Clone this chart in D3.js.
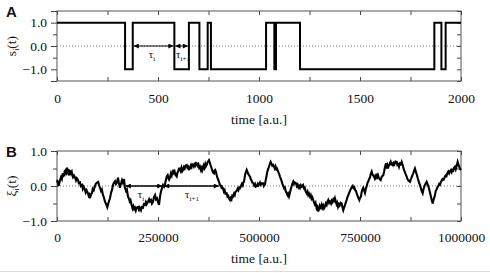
<!DOCTYPE html>
<html>
<head>
<meta charset="utf-8">
<script src="https://cdnjs.cloudflare.com/ajax/libs/d3/7.8.5/d3.min.js"></script>
<style>
  body { margin: 0; background: #fff; }
  text { font-family: "Liberation Serif", "DejaVu Serif", serif; fill: #111; }
  .panel { font-family: "Liberation Sans", Arial, sans-serif; font-weight: bold; }
</style>
</head>
<body>
<div id="chartContainer"></div>
<script>
// panel A: switching times of the two-state signal and its level after each switch
var switchTimes = [0, 337, 375, 581, 653, 705, 746, 762, 1035, 1076, 1084, 1203, 1868, 1903, 1924, 2000];
var switchStates = [1, -1, 1, -1, 1, -1, 1, -1, 1, -1, 1, -1, 1, -1, 1];
var aTicks = [0, 500, 1000, 1500, 2000];
var aYTicks = [1, 0, -1];
var aTau = [375, 581, 653];

// panel B: noisy trajectory, time in thousands of a.u.
var xiTime = [0,1,2.5,3.5,5,7,9.9,12,14.1,15.5,17.3,19,21.5,23,24.8,26,27.2,28.5,29.7,31,32.2,34,36.4,38,39.6,42,44.6,47,49,52,54,56.9,59,61.9,64,66,69.3,71,73,76.7,78.5,80,81.7,84,86.6,88.5,91,94,96,99,102,104,106.4,109,111,113.9,116,118.8,121,124.5,127,129,131.2,134,136,138.6,141,143.6,146,148.5,151,153,155.9,158,160.9,163,165.8,168.3,171,173,175.7,178,180,182,184.9,187,189,191,193,195,197,200.5,203,205,207.9,210,212.9,215,217.8,220,222,225.2,228,230,232.7,235,237.6,240,242.6,245,247.5,250,252.5,255,257.4,260,262.4,265,267.3,270,272,274,276,277.5,279.7,282,284,287.1,289,291,293,296.3,298,300,302,304.4,306,308,310,311.9,314,316,318,321,323,325,327,329.2,331,333,334.5,336.6,338.5,340,342,344,345.8,348,350,352,353.9,356,358,359.5,361.4,363,365,367,368.5,370.5,372,374,376.2,378,380,382.9,384.5,386.5,388.6,390,391.5,393.5,395.5,397,399,401,403,405,407,408.5,410.9,413,415,417,420,422,424,426,428.2,430,432,433.8,435.6,438,440,442,444.8,447,449,451,453,455.4,457.5,459.5,461,462.8,464.5,466,467.5,469.5,471.5,473.5,475.5,477.7,479.5,481.5,483.5,485.8,488,490,492,495,497,499,502.4,504.5,506.5,509.9,512,514.8,516.5,518.5,520.5,522.5,524.5,526.5,528.9,531,533,535,537.1,539,541,543,544.5,546.5,548.5,550,551.9,554,556,558,560.1,562,564,566,568.5,570.5,572,574.2,576,578,580.9,582.5,584.8,586.5,588.5,591.5,593.5,595.5,597.5,599.5,601.4,603.5,605.5,608.9,611,613,615,618,620,622,624,626.2,628,630,632,634.3,636,638,640,642.7,644.5,646.7,648.5,650.5,653,655.1,657,659,661,663.3,665.5,667.5,669.5,671.4,673.5,675.5,678.2,680,682,684,686,688,690,692,693.5,695.5,697.5,699.5,702,704.6,706.5,708.6,710.5,712.5,714.5,717,719,721,723,725.2,727.5,729.5,731.9,734,736,738,740,742,744,746,748.2,750,752.4,754,756,758.1,760,762.3,764,765.5,767.3,769,771,772.5,774.7,776.5,778.9,780.5,782.5,784.6,786.5,788,789.5,791.5,793,794.5,796.5,798.5,801.2,803,805,807.6,809.5,811.5,814.3,816,817.5,819.2,821,823,825.9,827.5,829.5,831.6,833.5,835.5,838,840.8,842.5,844.5,846.5,848.5,850.5,853.1,855,856.5,858.8,861,863,865.5,867.5,869.5,871.5,873.7,875.5,877.5,879.5,881.8,884,886,888,889.5,891,893,895,896.5,898.4,900.5,902.5,905.1,907,909.6,912,915,917,919,921.5,923.5,925.5,927.5,929.9,931.5,933.5,935.6,937.5,939.5,941.5,943.7,946,948,950.4,952.5,954.5,957,960.3,962,964,966,968.4,970.5,972.5,975.2,977,979,981,983,985,987,989,991.7,993.5,995.5,997.4,1000];
var xiValue = [0.10,0.14,0.12,0.02,0.03,0.15,0.25,0.20,0.36,0.28,0.30,0.42,0.46,0.36,0.40,0.48,0.46,0.34,0.30,0.44,0.43,0.36,0.41,0.30,0.25,0.30,0.24,0.16,0.22,0.17,0.08,0.10,0.00,0.03,-0.08,-0.02,-0.11,-0.18,-0.12,-0.21,-0.28,-0.25,-0.35,-0.24,-0.20,-0.08,-0.12,0.00,0.06,0.10,0.12,0.02,-0.05,-0.14,-0.10,-0.26,-0.32,-0.45,-0.50,-0.61,-0.50,-0.42,-0.35,-0.18,-0.12,0.03,0.10,0.14,0.06,0.10,0.24,0.10,-0.05,0.06,0.17,0.10,0.20,-0.05,-0.14,-0.10,-0.30,-0.36,-0.44,-0.40,-0.55,-0.64,-0.58,-0.66,-0.62,-0.70,-0.62,-0.60,-0.68,-0.62,-0.69,-0.60,-0.62,-0.52,-0.54,-0.46,-0.52,-0.45,-0.38,-0.44,-0.40,-0.50,-0.45,-0.32,-0.26,-0.38,-0.35,-0.46,-0.54,-0.30,-0.16,-0.05,0.03,-0.02,0.05,0.20,0.28,0.31,0.22,0.18,0.24,0.36,0.30,0.46,0.38,0.42,0.32,0.27,0.38,0.42,0.50,0.50,0.44,0.52,0.42,0.46,0.54,0.50,0.58,0.60,0.52,0.55,0.48,0.50,0.58,0.54,0.62,0.60,0.56,0.62,0.58,0.66,0.65,0.58,0.62,0.52,0.55,0.46,0.52,0.44,0.50,0.58,0.52,0.62,0.56,0.60,0.66,0.70,0.74,0.68,0.60,0.50,0.44,0.38,0.36,0.44,0.46,0.40,0.30,0.24,0.18,0.12,0.04,0.02,-0.04,-0.02,-0.07,-0.16,-0.12,-0.22,-0.21,-0.30,-0.28,-0.36,-0.40,-0.34,-0.38,-0.28,-0.30,-0.22,-0.26,-0.16,-0.14,-0.08,-0.12,-0.04,-0.06,0.00,0.06,0.02,0.10,0.12,0.24,0.34,0.40,0.46,0.40,0.34,0.30,0.27,0.20,0.16,0.10,0.08,0.02,0.06,-0.02,0.00,0.06,0.02,0.10,0.04,0.08,0.08,0.00,0.05,0.16,0.28,0.41,0.48,0.54,0.62,0.69,0.64,0.58,0.60,0.55,0.50,0.56,0.48,0.50,0.44,0.38,0.34,0.27,0.20,0.14,0.06,0.00,-0.06,-0.04,-0.14,-0.21,-0.26,-0.22,-0.30,-0.22,-0.12,0.00,0.06,0.12,0.06,0.10,0.08,0.00,0.04,-0.04,0.00,-0.05,0.02,-0.02,0.03,-0.06,-0.04,-0.14,-0.21,-0.16,-0.26,-0.22,-0.30,-0.26,-0.36,-0.32,-0.40,-0.46,-0.52,-0.48,-0.64,-0.60,-0.73,-0.66,-0.56,-0.62,-0.54,-0.62,-0.56,-0.64,-0.59,-0.50,-0.54,-0.44,-0.40,-0.48,-0.44,-0.50,-0.42,-0.46,-0.38,-0.42,-0.35,-0.44,-0.52,-0.48,-0.59,-0.52,-0.56,-0.48,-0.50,-0.60,-0.69,-0.62,-0.56,-0.48,-0.40,-0.32,-0.26,-0.20,-0.14,-0.08,-0.04,0.00,-0.06,-0.04,-0.12,-0.14,-0.22,-0.28,-0.34,-0.40,-0.34,-0.30,-0.18,-0.10,-0.05,-0.12,-0.20,-0.10,-0.04,0.03,0.10,0.14,0.20,0.24,0.34,0.41,0.34,0.30,0.27,0.22,0.28,0.24,0.30,0.26,0.31,0.24,0.20,0.17,0.24,0.28,0.31,0.40,0.52,0.65,0.56,0.60,0.50,0.58,0.62,0.69,0.62,0.64,0.60,0.66,0.62,0.70,0.69,0.60,0.62,0.55,0.64,0.62,0.69,0.62,0.56,0.46,0.40,0.34,0.27,0.20,0.16,0.14,0.12,0.18,0.24,0.30,0.36,0.44,0.50,0.42,0.36,0.31,0.22,0.14,0.08,0.03,-0.06,-0.14,-0.21,-0.10,0.00,0.06,0.12,0.06,0.00,-0.11,-0.20,-0.30,-0.40,-0.50,-0.42,-0.34,-0.26,-0.14,-0.10,-0.04,0.00,0.06,0.04,0.12,0.16,0.20,0.18,0.27,0.30,0.28,0.36,0.41,0.36,0.42,0.46,0.40,0.46,0.44,0.52,0.55,0.48,0.56,0.69,0.62,0.56,0.50,0.45];
var bTicks = [0, 250000, 500000, 750000, 1000000];
var bYTicks = [1, 0, -1];
var bTau = [168000, 263000, 403000];

var W = 490, H = 273;
var FS = 13.5;
var svg = d3.select("#chartContainer").append("svg").attr("width", W).attr("height", H);

svg.append("defs").append("marker")
  .attr("id", "ah").attr("viewBox", "0 0 10 10").attr("refX", 10).attr("refY", 5)
  .attr("markerWidth", 6).attr("markerHeight", 5).attr("markerUnits", "userSpaceOnUse")
  .attr("orient", "auto-start-reverse")
  .append("path").attr("d", "M0,0L10,5L0,10z").attr("fill", "#000");

function panel(opt) {
  var g = svg.append("g");
  var x = d3.scaleLinear().domain(opt.xDomain).range([57, 461]);
  var y = d3.scaleLinear().domain(opt.yDomain).range([opt.bottom, opt.top]);
  var step = opt.xDomain[1] / 8;
  var minorX = d3.range(0, 9).map(function (i) { return i * step; });
  var minorY = d3.range(opt.yDomain[0], opt.yDomain[1] + 0.01, 0.5);

  // zero line
  g.append("line").attr("x1", x.range()[0]).attr("x2", x.range()[1])
    .attr("y1", y(0)).attr("y2", y(0))
    .attr("stroke", "#777").attr("stroke-width", 1).attr("stroke-dasharray", "1,2");

  // bottom (labels, inward ticks)
  var bx = g.append("g").attr("transform", "translate(0," + opt.bottom + ")")
    .call(d3.axisBottom(x).tickValues(minorX).tickSize(-4).tickPadding(opt.pad)
      .tickFormat(function (d) { return opt.xTicks.indexOf(d) >= 0 ? opt.xFmt(d) : ""; }));
  // top
  var tx = g.append("g").attr("transform", "translate(0," + opt.top + ")")
    .call(d3.axisTop(x).tickValues(minorX).tickSize(-4).tickFormat(""));
  // left (outward)
  var ly = g.append("g").attr("transform", "translate(57,0)")
    .call(d3.axisLeft(y).tickValues(minorY).tickSize(5).tickPadding(5)
      .tickFormat(function (d) { return opt.yTicks.indexOf(d) >= 0 ? d3.format(".1f")(d) : ""; }));
  ly.selectAll(".tick line").attr("x2", function (d) { return opt.yTicks.indexOf(d) >= 0 || Math.abs(d) > 1.2 ? -6 : -4; });
  // right
  var ry = g.append("g").attr("transform", "translate(461,0)")
    .call(d3.axisRight(y).tickValues(minorY).tickSize(-4).tickFormat(""));
  [bx, tx, ly, ry].forEach(function (a) {
    a.select(".domain").remove();
    a.selectAll(".tick line").attr("stroke", "#444");
    a.selectAll("text").attr("font-size", FS).attr("font-family", "Liberation Serif, serif").attr("fill", "#111");
  });

  g.append("rect").attr("x", 57).attr("y", opt.top).attr("width", 404).attr("height", opt.bottom - opt.top)
    .attr("fill", "none").attr("stroke", "#555").attr("stroke-width", 1);

  g.append("path").datum(opt.points)
    .attr("d", d3.line().x(function (d) { return x(d[0]); }).y(function (d) { return y(d[1]); }).curve(opt.curve))
    .attr("fill", "none").attr("stroke", "#000").attr("stroke-width", opt.lw).attr("stroke-linejoin", "miter");

  // tau arrows
  for (var k = 0; k < 2; k++) {
    g.append("line").attr("x1", x(opt.tau[k]) + 1).attr("x2", x(opt.tau[k + 1]) - 1)
      .attr("y1", y(0)).attr("y2", y(0)).attr("stroke", "#000").attr("stroke-width", opt.alw)
      .attr("marker-start", "url(#ah)").attr("marker-end", "url(#ah)");
    var t = g.append("text").attr("x", opt.tauLab[k]).attr("y", opt.tauY).attr("font-size", 11).attr("text-anchor", "middle");
    t.append("tspan").text("τ");
    t.append("tspan").attr("font-size", 7).attr("dy", 3).text(k === 0 ? "i" : "i+1");
  }

  g.append("text").attr("x", 259).attr("y", opt.titleY).attr("text-anchor", "middle")
    .attr("font-size", FS).text("time [a.u.]");

  var yl = g.append("text").attr("transform", "translate(16," + opt.yLabY + ") rotate(-90)")
    .attr("text-anchor", "middle").attr("font-size", FS);
  yl.append("tspan").text(opt.yLab);
  yl.append("tspan").attr("font-size", 8).attr("dy", 3).text("i");
  yl.append("tspan").attr("dy", -3).text("(t)");

  g.append("text").attr("class", "panel").attr("x", 6).attr("y", opt.top + 6)
    .attr("font-size", 15).text(opt.name);
}

var aPoints = switchStates.map(function (s, i) { return [switchTimes[i], s]; });
aPoints.push([switchTimes[switchTimes.length - 1], switchStates[switchStates.length - 1]]);

panel({
  name: "A", xDomain: [0, 2000], yDomain: [-1.5, 1.5], top: 11, bottom: 81, pad: 12,
  xTicks: aTicks, yTicks: aYTicks, xFmt: d3.format("d"),
  points: aPoints, curve: d3.curveStepAfter, lw: 2, alw: 1,
  tau: aTau, tauLab: [152, 183], tauY: 58, titleY: 124, yLab: "s", yLabY: 46
});

panel({
  name: "B", xDomain: [0, 1000000], yDomain: [-1, 1], top: 151, bottom: 221, pad: 11,
  xTicks: bTicks, yTicks: bYTicks, xFmt: d3.format("d"),
  points: xiTime.map(function (t, i) { return [t * 1000, xiValue[i]]; }), curve: d3.curveLinear, lw: 2.1, alw: 1.3,
  tau: bTau, tauLab: [141, 192], tauY: 198, titleY: 263, yLab: "ξ", yLabY: 186
});

svg.append("line").attr("x1", 0).attr("x2", W).attr("y1", 271.5).attr("y2", 271.5)
  .attr("stroke", "#ddd").attr("stroke-width", 1);
</script>
</body>
</html>
